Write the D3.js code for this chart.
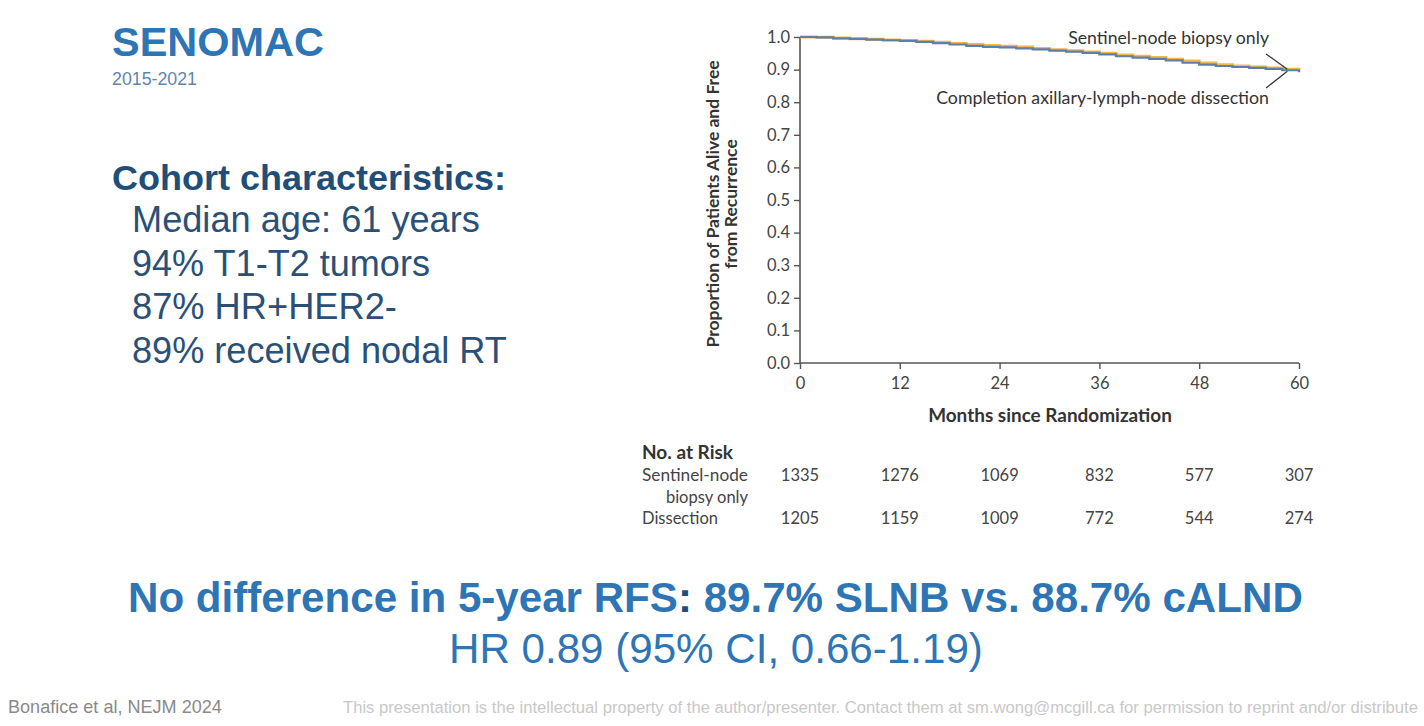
<!DOCTYPE html>
<html><head><meta charset="utf-8">
<script src="https://cdn.jsdelivr.net/npm/d3@7"></script>
<style>
html,body{margin:0;padding:0;background:#fff;overflow:hidden;}
svg{display:block;}
</style></head>
<body>
<svg id="c" width="1424" height="726"></svg>
<script>
// ---- data ----
const months = [0,2,4,6,8,10,12,14,16,18,20,22,24,26,28,30,32,34,36,38,40,42,44,46,48,50,52,54,56,58,60];
const slnbSurv = [1.000,0.999,0.997,0.995,0.993,0.991,0.989,0.987,0.984,0.980,0.977,0.974,0.972,0.969,0.965,0.961,0.958,0.954,0.950,0.945,0.941,0.937,0.932,0.926,0.920,0.915,0.911,0.908,0.905,0.901,0.895];
const alndSurv = [1.000,0.999,0.996,0.994,0.992,0.990,0.988,0.985,0.981,0.977,0.973,0.970,0.968,0.965,0.962,0.958,0.955,0.951,0.947,0.941,0.937,0.933,0.928,0.921,0.915,0.911,0.908,0.905,0.902,0.898,0.892];
const xTicks = [0,12,24,36,48,60];
const yTicks = [0,0.1,0.2,0.3,0.4,0.5,0.6,0.7,0.8,0.9,1.0];
const riskSLNB = [1335,1276,1069,832,577,307];
const riskALND = [1205,1159,1009,772,544,274];
const cohortLines = ["Median age: 61 years","94% T1-T2 tumors","87% HR+HER2-","89% received nodal RT"];

const svg = d3.select("#c");
const sans = "'Liberation Sans', Arial, sans-serif";
const chartFont = "Lato, 'Noto Sans', sans-serif";

function fit(t, w){
  const n = t.node();
  const fs = parseFloat(t.attr("font-size"));
  const m = n.getComputedTextLength();
  if (m > 0) t.attr("font-size", (fs * w / m).toFixed(2));
  return t;
}

// ---- left text ----
fit(svg.append("text").attr("x",112).attr("y",56).attr("font-family",sans).attr("font-weight","bold")
  .attr("font-size",40).attr("fill","#2e75b6").text("SENOMAC"), 212);
fit(svg.append("text").attr("x",112).attr("y",85).attr("font-family",sans)
  .attr("font-size",14).attr("fill","#5f86b0").text("2015-2021"), 85);
fit(svg.append("text").attr("x",112).attr("y",190).attr("font-family",sans).attr("font-weight","bold")
  .attr("font-size",36).attr("fill","#1f4e79").text("Cohort characteristics:"), 394);
const lineY = [232,276,319,363];
const lineW = [348,298,265,375];
cohortLines.forEach((s,i)=>{
  fit(svg.append("text").attr("x",132).attr("y",lineY[i]).attr("font-family",sans)
    .attr("font-size",34).attr("fill","#2a5078").text(s), lineW[i]);
});

// ---- chart ----
const x = d3.scaleLinear().domain([0,60]).range([800,1299]);
const y = d3.scaleLinear().domain([0,1]).range([363,37]);
const axisColor = "#555";

const gx = svg.append("g").attr("transform","translate(0,363)")
  .call(d3.axisBottom(x).tickValues(xTicks).tickSize(6).tickPadding(8).tickFormat(d3.format("d")));
const gy = svg.append("g").attr("transform","translate(800,0)")
  .call(d3.axisLeft(y).tickValues(yTicks).tickSize(6).tickPadding(4).tickFormat(d3.format(".1f")));
[gx,gy].forEach(g=>{
  g.select(".domain").attr("stroke",axisColor).attr("stroke-width",1.6);
  g.selectAll(".tick line").attr("stroke",axisColor).attr("stroke-width",1.4);
  g.selectAll(".tick text").attr("fill","#444").attr("font-family",chartFont).attr("font-size",16.5);
});
gy.select(".domain").attr("d","M0,37V363");
gx.select(".domain").attr("d","M800,0H1299");

const line = d3.line().x((d,i)=>x(months[i])).y(d=>y(d)).curve(d3.curveStepAfter);
svg.append("path").datum(slnbSurv).attr("d",line).attr("fill","none")
  .attr("stroke","#f2b74e").attr("stroke-width",3);
svg.append("path").datum(alndSurv).attr("d",line).attr("fill","none")
  .attr("stroke","#5d7fa8").attr("stroke-width",2.2);

// curve labels + leaders
fit(svg.append("text").attr("x",1269).attr("y",44).attr("text-anchor","end")
  .attr("font-family",chartFont).attr("font-size",17).attr("fill","#333").text("Sentinel-node biopsy only"), 201);
fit(svg.append("text").attr("x",1269).attr("y",104).attr("text-anchor","end")
  .attr("font-family",chartFont).attr("font-size",17).attr("fill","#333").text("Completion axillary-lymph-node dissection"), 333);
const meet = x(58.6);
svg.append("line").attr("x1",1266).attr("y1",54).attr("x2",meet).attr("y2",y(slnbSurv[29]))
  .attr("stroke","#333").attr("stroke-width",1.2);
svg.append("line").attr("x1",1266).attr("y1",88).attr("x2",meet).attr("y2",y(alndSurv[29])+1)
  .attr("stroke","#333").attr("stroke-width",1.2);

// axis titles
fit(svg.append("text").attr("x",1050).attr("y",422).attr("text-anchor","middle")
  .attr("font-family",chartFont).attr("font-weight","bold").attr("font-size",18).attr("fill","#333")
  .text("Months since Randomization"), 244);
const yl = svg.append("text").attr("transform","translate(719,204) rotate(-90)").attr("text-anchor","middle")
  .attr("font-family",chartFont).attr("font-weight","bold").attr("font-size",17.5).attr("fill","#333");
yl.append("tspan").attr("x",0).attr("dy",0).text("Proportion of Patients Alive and Free");
yl.append("tspan").attr("x",0).attr("dy",18).text("from Recurrence");

// risk table
const tf = {"font-family":chartFont,"font-size":16.5,"fill":"#444"};
function tt(xp,yp,s,anchor,bold){
  const t = svg.append("text").attr("x",xp).attr("y",yp).attr("text-anchor",anchor||"start");
  Object.entries(tf).forEach(([k,v])=>t.attr(k,v));
  if (bold) t.attr("font-weight","bold").attr("fill","#333").attr("font-size",18);
  return t.text(s);
}
fit(tt(642,459,"No. at Risk","start",true), 91);
fit(tt(642,481,"Sentinel-node"), 106);
tt(748,503,"biopsy only","end");
tt(642,524,"Dissection");
riskSLNB.forEach((v,i)=>tt(x(xTicks[i]),481,v,"middle"));
riskALND.forEach((v,i)=>tt(x(xTicks[i]),524,v,"middle"));

// bottom conclusions
const b1 = svg.append("text").attr("x",128).attr("y",612).attr("font-family",sans).attr("font-weight","bold")
  .attr("font-size",40).attr("fill","#2e75b6");
b1.append("tspan").text("No difference in 5-year RFS");
b1.append("tspan").attr("fill","#1f4e79").text(":");
b1.append("tspan").text(" 89.7% SLNB vs. 88.7% cALND");
fit(b1, 1175);
fit(svg.append("text").attr("x",449).attr("y",663).attr("font-family",sans)
  .attr("font-size",36).attr("fill","#2e75b6").text("HR 0.89 (95% CI, 0.66-1.19)"), 534);

// footer
fit(svg.append("text").attr("x",8).attr("y",713).attr("font-family","'Liberation Sans Narrow', 'Liberation Sans', sans-serif")
  .attr("font-size",16).attr("fill","#8a8a8a").text("Bonafice et al, NEJM 2024"), 214);
fit(svg.append("text").attr("x",343).attr("y",713).attr("font-family","'Liberation Sans Narrow', 'Liberation Sans', sans-serif")
  .attr("font-size",15).attr("fill","#c8c8c8")
  .text("This presentation is the intellectual property of the author/presenter.  Contact them at sm.wong@mcgill.ca for permission to reprint and/or distribute"), 1076);
</script>
</body></html>
